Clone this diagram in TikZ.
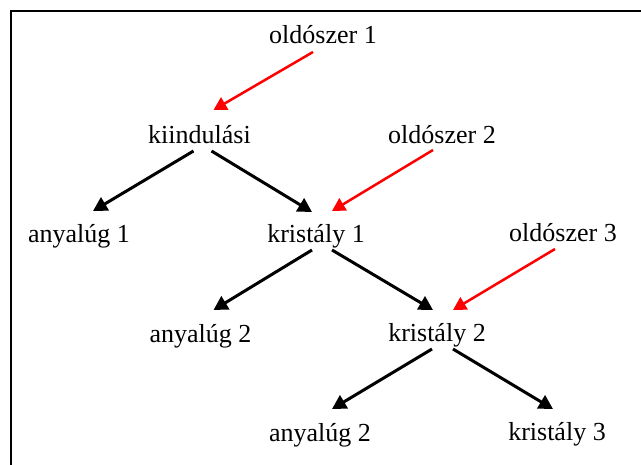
\documentclass[tikz,border=0pt]{standalone}
\usepackage{fontspec}
\setmainfont{Liberation Serif}
\usetikzlibrary{arrows.meta,calc}

\begin{document}
\begin{tikzpicture}[x=1pt, y=-1pt,
  lbl/.style={anchor=base, inner sep=0pt, font=\fontsize{26}{30}\selectfont},
  split/.style={black, line width=3pt, -{Triangle[length=14pt,width=15pt]}},
  feed/.style={red, line width=2.5pt, -{Triangle[length=13pt,width=14pt]}}]
\useasboundingbox (0,0) rectangle (641,464);
\clip (0,0) rectangle (641,464);
% --- frame ---
\draw[line width=2pt] (11,11) rectangle (660,480);
% --- labels ---
\node[lbl] (sol1) at (323,43) {oldószer 1};
\node[lbl] (start) at (199.5,143) {kiindulási};
\node[lbl] (sol2) at (442,143) {oldószer 2};
\node[lbl] (mother1) at (79,242) {anyalúg 1};
\node[lbl] (cryst1) at (316,242) {kristály 1};
\node[lbl] (sol3) at (563,241) {oldószer 3};
\node[lbl] (mother2) at (200.5,342) {anyalúg 2};
\node[lbl] (cryst2) at (437,341) {kristály 2};
\node[lbl] (mother3) at (320,441) {anyalúg 2};
\node[lbl] (cryst3) at (557,440) {kristály 3};
% --- solvent arrows ---
\draw[feed] ($(sol1.base)+(-10,9)$) -- ($(start.base)+(14,-33)$);
\draw[feed] ($(sol2.base)+(-9,7)$) -- ($(cryst1.base)+(16,-31)$);
\draw[feed] ($(sol3.base)+(-8,8)$) -- ($(cryst2.base)+(16,-31)$);
% --- splitting arrows ---
\draw[split] ($(start.base)+(-6,8)$) -- ($(mother1.base)+(14,-31)$);
\draw[split] ($(start.base)+(12,8)$) -- ($(cryst1.base)+(-4,-30)$);
\draw[split] ($(cryst1.base)+(-4,8)$) -- ($(mother2.base)+(13,-32)$);
\draw[split] ($(cryst1.base)+(16,8)$) -- ($(cryst2.base)+(-4,-31)$);
\draw[split] ($(cryst2.base)+(-5,8)$) -- ($(mother3.base)+(12,-32)$);
\draw[split] ($(cryst2.base)+(16,8)$) -- ($(cryst3.base)+(-4,-31)$);
\end{tikzpicture}
\end{document}
